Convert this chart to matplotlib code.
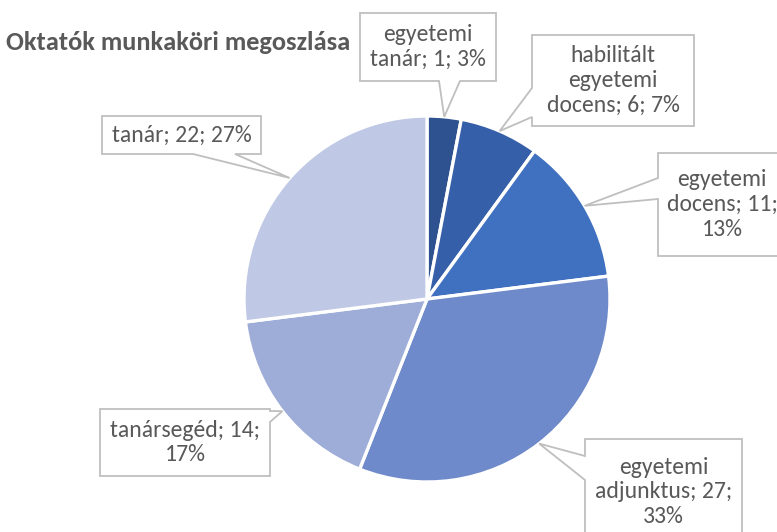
import matplotlib
matplotlib.use("Agg")
import matplotlib.pyplot as plt
import numpy as np
from matplotlib import font_manager
from matplotlib.patches import Polygon

# data
categories = ["egyetemi tanár", "habilitált egyetemi docens", "egyetemi docens",
              "egyetemi adjunktus", "tanársegéd", "tanár"]
counts = [1, 6, 11, 27, 14, 22]
percents = [3, 7, 13, 33, 17, 27]
label_texts = ["egyetemi\ntanár; 1; 3%",
               "habilitált\negyetemi\ndocens; 6; 7%",
               "egyetemi\ndocens; 11;\n13%",
               "egyetemi\nadjunktus; 27;\n33%",
               "tanársegéd; 14;\n17%",
               "tanár; 22; 27%"]
colors = ["#2E5290", "#365FAA", "#4070C0", "#6E8ACA", "#9EADD8", "#BFC8E4"]

W, H = 777, 532
TEXT = "#595959"
EDGE = "#BFBFBF"

# pick a narrow Calibri-like face if one is around
available = {f.name for f in font_manager.fontManager.ttflist}
font, scale = "DejaVu Sans", 0.78
for cand, sc in [("Carlito", 1.0), ("Liberation Sans Narrow", 1.0), ("Open Sans", 0.84)]:
    if cand in available:
        font, scale = cand, sc
        break
plt.rcParams['font.family'] = [font, 'DejaVu Sans']

fig = plt.figure(figsize=(W / 100, H / 100), dpi=100)
ax = fig.add_axes([0, 0, 1, 1])

cx, cy, R = 427, H - 299, 183
wedges, _ = ax.pie(percents, colors=colors, startangle=90, counterclock=False,
                   center=(cx, cy), radius=R,
                   wedgeprops=dict(edgecolor="white", linewidth=2.4))
ax.set_xlim(0, W)
ax.set_ylim(0, H)
ax.set_aspect("equal")
ax.axis("off")

# callout boxes: (x0, y0, x1, y1) in pixels from top-left, pointer side, pointer base
boxes = [
    ((360, 13, 496, 81), "bottom", (439, 460)),
    ((532, 35, 694, 126), "left", (88, 117)),
    ((658, 153, 786, 256), "left", (178, 199)),
    ((585, 439, 742, 545), "left", (456, 480)),
    ((100, 409, 270, 476), "right", (411, 422)),
    ((102, 116, 261, 154), "bottom", (193, 235)),
]


def fy(y):
    return H - y


for w, txt, (box, side, base) in zip(wedges, label_texts, boxes):
    mid = np.deg2rad((w.theta1 + w.theta2) / 2)
    tip = (cx + R * np.cos(mid), cy + R * np.sin(mid))
    x0, y0, x1, y1 = box
    a, b = base
    if side == "bottom":
        pts = [(x0, fy(y0)), (x1, fy(y0)), (x1, fy(y1)),
               (b, fy(y1)), tip, (a, fy(y1)), (x0, fy(y1))]
    elif side == "left":
        pts = [(x0, fy(y0)), (x1, fy(y0)), (x1, fy(y1)), (x0, fy(y1)),
               (x0, fy(b)), tip, (x0, fy(a))]
    else:
        pts = [(x0, fy(y0)), (x1, fy(y0)), (x1, fy(a)), tip,
               (x1, fy(b)), (x1, fy(y1)), (x0, fy(y1))]
    ax.add_patch(Polygon(pts, closed=True, facecolor="white", edgecolor=EDGE,
                         linewidth=1.3, zorder=3, clip_on=False))
    fs = 17 * scale
    ax.text((x0 + x1) / 2, fy((y0 + y1) / 2), txt, ha="center", va="center",
            multialignment="center", fontsize=fs, color=TEXT, zorder=4,
            linespacing=29 / (fs * 100 / 72))

ax.text(6, fy(50), "Oktatók munkaköri megoszlása", ha="left", va="baseline",
        fontsize=19 * scale, fontweight="bold", color=TEXT, zorder=2)

fig.savefig("out.png", dpi=100)
